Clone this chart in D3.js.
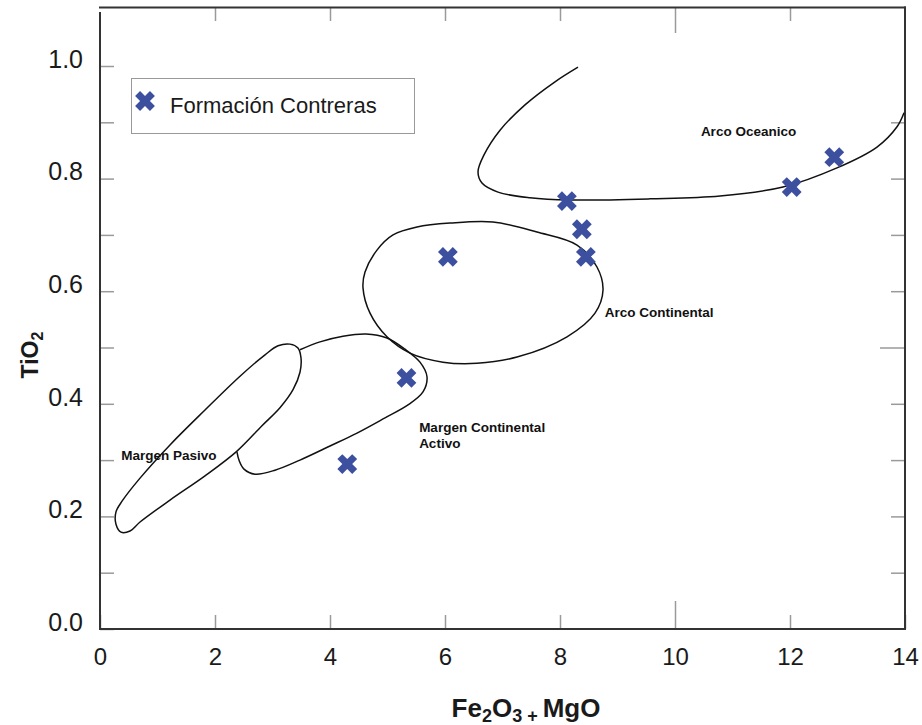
<!DOCTYPE html>
<html>
<head>
<meta charset="utf-8">
<script src="https://cdn.jsdelivr.net/npm/d3@7"></script>
<style>
  html, body { margin: 0; padding: 0; background: #ffffff; }
  svg { display: block; font-family: "Liberation Sans", Arial, sans-serif; }
</style>
</head>
<body>
<svg id="chart" width="922" height="725"></svg>
<script>
// Samples of the Formación Contreras: Fe2O3 + MgO (wt%) vs TiO2 (wt%)
const sampleFeMg = [4.3, 5.33, 6.05, 8.12, 8.38, 8.45, 12.03, 12.77];
const sampleTiO2 = [0.293, 0.446, 0.661, 0.760, 0.710, 0.661, 0.785, 0.838];

// Tectonic-setting field boundaries, [Fe2O3+MgO, TiO2]
const fieldPasivo = [
  [3.304, 0.506], [3.443, 0.499], [3.496, 0.481], [3.478, 0.456], [3.357, 0.425],
  [3.130, 0.393], [2.817, 0.361], [2.383, 0.316], [1.826, 0.272], [1.217, 0.229],
  [0.696, 0.190], [0.522, 0.174], [0.365, 0.172], [0.278, 0.186], [0.278, 0.208],
  [0.383, 0.227], [0.696, 0.268], [1.217, 0.327], [1.826, 0.389], [2.435, 0.449],
  [2.870, 0.487], [3.096, 0.503]
];
const fieldActivo = [
  [3.478, 0.496], [3.826, 0.510], [4.226, 0.520], [4.626, 0.524], [4.991, 0.517],
  [5.304, 0.497], [5.565, 0.474], [5.687, 0.448], [5.617, 0.421], [5.357, 0.398],
  [4.957, 0.375], [4.470, 0.348], [4.000, 0.325], [3.478, 0.300], [3.043, 0.282],
  [2.696, 0.275], [2.504, 0.284], [2.417, 0.300], [2.383, 0.314]
];
const fieldArcoContinental = [
  [4.574, 0.606], [4.609, 0.634], [4.817, 0.673], [5.096, 0.700], [5.513, 0.714],
  [6.087, 0.721], [6.835, 0.723], [7.600, 0.705], [8.296, 0.682], [8.643, 0.643],
  [8.748, 0.602], [8.609, 0.561], [8.122, 0.519], [7.252, 0.483], [6.557, 0.472],
  [5.965, 0.474], [5.391, 0.490], [4.991, 0.519], [4.696, 0.561]
];
const fieldArcoOceanico = [
  [8.313, 0.998], [7.913, 0.972], [7.391, 0.931], [6.957, 0.886], [6.678, 0.842],
  [6.574, 0.812], [6.643, 0.792], [6.922, 0.776], [7.478, 0.766], [8.174, 0.762],
  [9.565, 0.764], [10.783, 0.769], [11.878, 0.785], [12.817, 0.819], [13.513, 0.856],
  [13.861, 0.892], [13.983, 0.917]
];

// Field names and where they sit
const fieldLabels = [
  { lines: ["Arco Oceanico"], at: [10.45, 0.876] },
  { lines: ["Arco Continental"], at: [8.78, 0.555] },
  { lines: ["Margen Continental", "Activo"], at: [5.55, 0.350] },
  { lines: ["Margen Pasivo"], at: [0.37, 0.300] }
];

const xTicks = [0, 2, 4, 6, 8, 10, 12, 14];
const yTicks = [0.0, 0.1, 0.2, 0.3, 0.4, 0.5, 0.6, 0.7, 0.8, 0.9, 1.0];
const legendLabel = "Formación Contreras";

const svg = d3.select("#chart");
const x = d3.scaleLinear().domain([0, 14]).range([100, 905]);
const y = d3.scaleLinear().domain([0, 1]).range([629, 66]);

const frameColor = "#333333";
const tickColor = "#9a9a9a";
const markColor = "#3d509f";

// ---- ticks (inward) ----
const leftAxis = d3.axisLeft(y).tickValues(yTicks)
  .tickSize(-14).tickPadding(17)
  .tickFormat(d => (Math.round(d * 10) % 2 === 0) ? d3.format(".1f")(d) : "");
const gLeft = svg.append("g").attr("transform", "translate(100,0)").call(leftAxis);

const bottomAxis = d3.axisBottom(x).tickValues(xTicks)
  .tickSize(-14).tickFormat(d3.format("d"));
const gBottom = svg.append("g").attr("transform", "translate(0,629)").call(bottomAxis);

const topAxis = d3.axisTop(x).tickValues(xTicks.filter(d => d > 0 && d < 14))
  .tickSize(-14).tickFormat("");
const gTop = svg.append("g").attr("transform", "translate(0,7)").call(topAxis);

const rightAxis = d3.axisRight(y).tickValues(yTicks.filter(d => d > 0 && d < 1))
  .tickSize(-14).tickFormat("");
const gRight = svg.append("g").attr("transform", "translate(905,0)").call(rightAxis);

[gLeft, gBottom, gTop, gRight].forEach(g => {
  g.select(".domain").remove();
  g.selectAll(".tick line").attr("stroke", tickColor).attr("stroke-width", 1.5);
});
// longer marks at 10 on the horizontal axes and at 0.5 on the right
gBottom.selectAll(".tick line").filter(d => d === 10).attr("y2", -28);
gTop.selectAll(".tick line").filter(d => d === 10).attr("y2", 26);
gRight.selectAll(".tick line").filter(d => Math.abs(d - 0.5) < 1e-9).attr("x2", -25);

gLeft.selectAll(".tick text")
  .attr("font-size", 25).attr("fill", "#1a1a1a").attr("dy", "0.05em")
  .attr("font-family", "'Liberation Sans', Arial, sans-serif");
gBottom.selectAll(".tick text")
  .attr("font-size", 24).attr("fill", "#1a1a1a").attr("y", 36).attr("dy", 0)
  .attr("font-family", "'Liberation Sans', Arial, sans-serif");

// ---- frame ----
const frame = svg.append("g").attr("stroke", frameColor).attr("stroke-width", 2).attr("fill", "none");
frame.append("line").attr("x1", 99).attr("x2", 906).attr("y1", 7.5).attr("y2", 7.5);
frame.append("line").attr("x1", 100).attr("x2", 100).attr("y1", 12).attr("y2", 630);
frame.append("line").attr("x1", 99).attr("x2", 906).attr("y1", 629).attr("y2", 629);
frame.append("line").attr("x1", 905).attr("x2", 905).attr("y1", 6.5).attr("y2", 630);

// ---- fields ----
const closed = d3.line().x(d => x(d[0])).y(d => y(d[1])).curve(d3.curveCatmullRomClosed.alpha(0.5));
const open = d3.line().x(d => x(d[0])).y(d => y(d[1])).curve(d3.curveCatmullRom.alpha(0.5));
const fields = svg.append("g").attr("fill", "none").attr("stroke", "#111").attr("stroke-width", 1.5);
fields.append("path").attr("d", closed(fieldPasivo));
fields.append("path").attr("d", open(fieldActivo));
fields.append("path").attr("d", closed(fieldArcoContinental));
fields.append("path").attr("d", open(fieldArcoOceanico));

const lbl = svg.append("g").attr("font-size", 13.5).attr("font-weight", "bold").attr("fill", "#111");
fieldLabels.forEach(f => {
  const t = lbl.append("text").attr("x", x(f.at[0])).attr("y", y(f.at[1]));
  f.lines.forEach((s, i) => t.append("tspan").attr("x", x(f.at[0])).attr("dy", i === 0 ? 0 : 16.5).text(s));
});

// ---- samples ----
const cross = d3.symbol().type(d3.symbolCross).size(245)();
const samples = sampleFeMg.map((v, i) => [v, sampleTiO2[i]]);
svg.append("g").selectAll("path").data(samples).join("path")
  .attr("d", cross)
  .attr("fill", markColor)
  .attr("transform", d => `translate(${x(d[0])},${y(d[1])}) rotate(45)`);

// ---- legend ----
const lg = svg.append("g");
lg.append("rect").attr("x", 131.5).attr("y", 78.5).attr("width", 283).attr("height", 55)
  .attr("fill", "#fff").attr("stroke", "#999").attr("stroke-width", 1);
lg.append("path").attr("d", cross).attr("fill", markColor)
  .attr("transform", "translate(145,101) rotate(45)");
lg.append("text").attr("x", 170).attr("y", 113).attr("font-size", 22).attr("fill", "#1a1a1a").text(legendLabel);

// ---- axis titles ----
const yt = svg.append("text").attr("transform", "translate(38,355) rotate(-90)")
  .attr("text-anchor", "middle").attr("font-size", 23).attr("font-weight", "bold").attr("fill", "#1a1a1a");
yt.append("tspan").text("TiO");
yt.append("tspan").attr("font-size", 16).attr("dy", 5).text("2");

const xt = svg.append("text").attr("x", 526).attr("y", 717)
  .attr("text-anchor", "middle").attr("font-size", 26).attr("font-weight", "bold").attr("fill", "#1a1a1a");
xt.append("tspan").text("Fe");
xt.append("tspan").attr("font-size", 18).attr("dy", 5).text("2");
xt.append("tspan").attr("dy", -5).text("O");
xt.append("tspan").attr("font-size", 18).attr("dy", 5).text("3 + ");
xt.append("tspan").attr("dy", -5).text("MgO");
</script>
</body>
</html>
